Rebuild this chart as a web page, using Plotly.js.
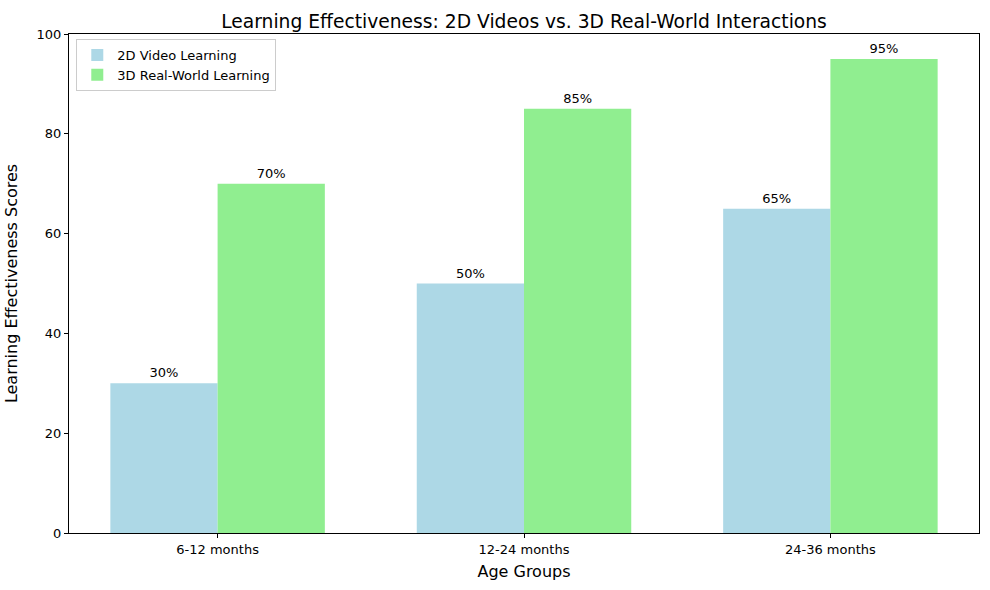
<!DOCTYPE html>
<html>
<head>
<meta charset="utf-8">
<script src="https://cdn.plot.ly/plotly-3.0.1.min.js"></script>
<style>
  html, body { margin: 0; padding: 0; background: #fff; }
  #chart { width: 990px; height: 590px; }
</style>
</head>
<body>
<div id="chart"></div>
<script>
// Данные
const ageGroups = ['6-12 months', '12-24 months', '24-36 months'];
const videoScores = [30, 50, 65];
const realWorldScores = [70, 85, 95];
const yTicks = [0, 20, 40, 60, 80, 100];

const font = 'DejaVu Sans, sans-serif';

const videoTrace = {
    x: ageGroups,
    y: videoScores,
    name: '2D Video Learning',
    type: 'bar',
    marker: { color: '#ADD8E6', line: { width: 0 } },
    text: videoScores.map(v => v + '%'),
    textposition: 'outside',
    cliponaxis: false,
    textfont: { family: font, size: 13, color: '#000' }
};

const realTrace = {
    x: ageGroups,
    y: realWorldScores,
    name: '3D Real-World Learning',
    type: 'bar',
    marker: { color: '#90EE90', line: { width: 0 } },
    text: realWorldScores.map(v => v + '%'),
    textposition: 'outside',
    cliponaxis: false,
    textfont: { family: font, size: 13, color: '#000' }
};

const layout = {
    width: 990,
    height: 590,
    paper_bgcolor: '#fff',
    plot_bgcolor: '#fff',
    font: { family: font, size: 13, color: '#000' },
    margin: { l: 69, r: 11, t: 34, b: 57 },
    barmode: 'group',
    bargap: 0.3,
    bargroupgap: 0,
    title: {
        text: 'Learning Effectiveness: 2D Videos vs. 3D Real-World Interactions',
        font: { family: font, size: 18.7, color: '#000' },
        x: 0.5,
        xref: 'paper',
        y: 1,
        yref: 'paper',
        yanchor: 'bottom',
        pad: { b: 6 }
    },
    xaxis: {
        type: 'category',
        range: [-0.485, 2.485],
        showline: true,
        mirror: true,
        linecolor: '#000',
        linewidth: 1,
        ticks: 'outside',
        ticklen: 4,
        tickcolor: '#000',
        showgrid: false,
        tickfont: { family: font, size: 13 },
        title: { text: 'Age Groups', font: { family: font, size: 16 }, standoff: 10 }
    },
    yaxis: {
        range: [0, 100],
        tickvals: yTicks,
        showline: true,
        mirror: true,
        linecolor: '#000',
        linewidth: 1,
        ticks: 'outside',
        ticklen: 4,
        tickcolor: '#000',
        showgrid: false,
        zeroline: false,
        tickfont: { family: font, size: 13 },
        title: { text: 'Learning Effectiveness Scores', font: { family: font, size: 16 }, standoff: 14 }
    },
    legend: {
        x: 0.008,
        y: 0.99,
        xanchor: 'left',
        yanchor: 'top',
        bgcolor: 'rgba(255,255,255,0.8)',
        bordercolor: '#ccc',
        borderwidth: 1,
        font: { family: font, size: 13 }
    },
    showlegend: true
};

Plotly.newPlot('chart', [videoTrace, realTrace], layout, { displayModeBar: false, staticPlot: true });
</script>
</body>
</html>
